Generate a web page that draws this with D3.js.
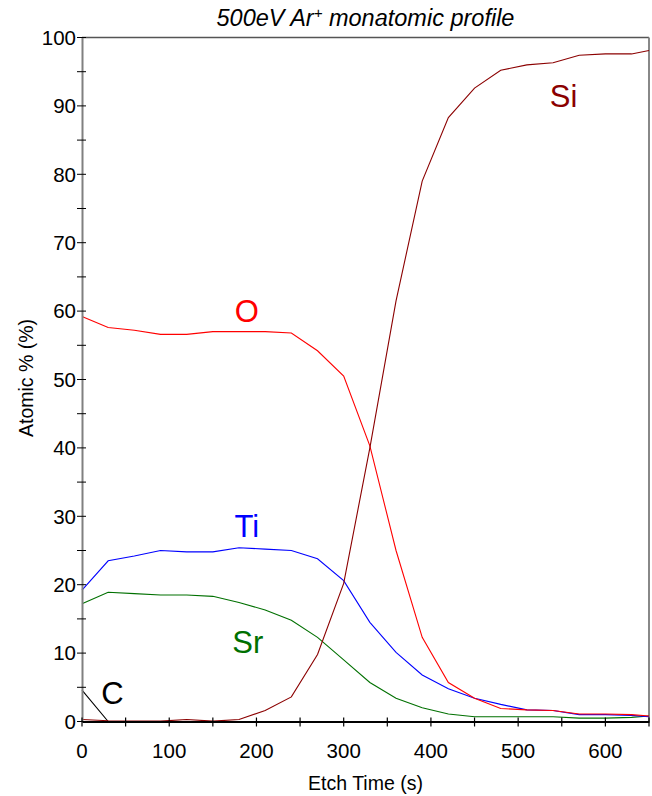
<!DOCTYPE html>
<html>
<head>
<meta charset="utf-8">
<script src="https://cdn.jsdelivr.net/npm/d3@7"></script>
<style>
  body { margin: 0; background: #fff; }
  svg { display: block; font-family: "Liberation Sans", Arial, sans-serif; }
</style>
</head>
<body>
<svg id="chart" width="652" height="796"></svg>
<script>
// ---- data ----
const etchTime = [0, 30, 60, 90, 120, 150, 180, 210, 240, 270, 300, 330, 360, 390, 420, 450, 480, 510, 540, 570, 600, 630, 650];
const siValues = [0.3, 0.1, 0.05, 0.05, 0.3, 0.05, 0.3, 1.6, 3.6, 9.8, 20.2, 40.0, 61.5, 79.0, 88.3, 92.6, 95.2, 96.0, 96.3, 97.4, 97.6, 97.6, 98.1];
const oValues  = [59.2, 57.6, 57.2, 56.6, 56.6, 57.0, 57.0, 57.0, 56.8, 54.2, 50.5, 40.3, 25.0, 12.3, 5.7, 3.4, 1.9, 1.7, 1.6, 1.1, 1.1, 1.0, 0.8];
const tiValues = [19.2, 23.5, 24.2, 25.0, 24.8, 24.8, 25.4, 25.2, 25.0, 23.8, 20.6, 14.5, 10.1, 6.8, 4.8, 3.4, 2.5, 1.7, 1.6, 1.0, 1.0, 0.9, 0.7];
const srValues = [17.2, 18.9, 18.7, 18.5, 18.5, 18.3, 17.4, 16.3, 14.8, 12.3, 9.0, 5.7, 3.4, 2.0, 1.1, 0.7, 0.7, 0.7, 0.7, 0.5, 0.5, 0.6, 0.8];
const cValues  = [4.6, 0, 0, 0, 0, 0, 0, 0, 0, 0, 0, 0, 0, 0, 0, 0, 0, 0, 0, 0, 0, 0, 0];

const seriesNames = ["C", "Sr", "Ti", "O", "Si"];
const seriesColors = {Si: "#8b0000", O: "#ff0000", Ti: "#0000ff", Sr: "#007000", C: "#000000"};
const seriesValues = {Si: siValues, O: oValues, Ti: tiValues, Sr: srValues, C: cValues};
// label anchor (data coords) for each series
const labelTime = {Si: 552, O: 189, Ti: 189, Sr: 190, C: 35};
const labelValue = {Si: 91.5, O: 60.0, Ti: 28.6, Sr: 11.6, C: 4.2};

const xTicks = [0, 100, 200, 300, 400, 500, 600];
const xMinorTicks = d3.range(0, 651, 50);
const yTicks = d3.range(0, 101, 10);
const yMinorTicks = d3.range(0, 101, 5);

const titleText = "500eV Ar";
const xLabel = "Etch Time (s)";
const yLabel = "Atomic % (%)";

// ---- layout ----
const svg = d3.select("#chart");
const mLeft = 82, mRight = 649, mTop = 37.5, mBottom = 721.5;

const x = d3.scaleLinear().domain([0, 650]).range([mLeft, mRight]);
const y = d3.scaleLinear().domain([0, 100]).range([mBottom, mTop]);

// frame (top, right)
svg.append("line").attr("x1", mLeft).attr("x2", mRight).attr("y1", mTop).attr("y2", mTop)
  .attr("stroke", "#555").attr("stroke-width", 1.5);
svg.append("line").attr("x1", mRight).attr("x2", mRight).attr("y1", mTop).attr("y2", mBottom)
  .attr("stroke", "#888").attr("stroke-width", 2);

// series
const line = d3.line().x((d, i) => x(etchTime[i])).y(d => y(d));
const plot = svg.append("g");
seriesNames.forEach(name => {
  plot.append("path")
    .datum(seriesValues[name])
    .attr("d", line)
    .attr("fill", "none")
    .attr("stroke", seriesColors[name])
    .attr("stroke-width", 1.1);
});

// y axis
const yAxisG = svg.append("g").attr("transform", `translate(${mLeft},0)`);
yAxisG.call(d3.axisLeft(y).tickValues(yMinorTicks).tickSize(0).tickFormat(""));
yAxisG.select(".domain").attr("stroke", "#808080").attr("stroke-width", 2);
yAxisG.selectAll(".tick").remove();
yMinorTicks.forEach(v => {
  yAxisG.append("line").attr("x1", -5).attr("x2", 4).attr("y1", y(v)).attr("y2", y(v))
    .attr("stroke", "#000").attr("stroke-width", 1);
});
yTicks.forEach(v => {
  yAxisG.append("text").attr("x", -6).attr("y", y(v)).attr("dy", "0.36em")
    .attr("text-anchor", "end").attr("font-size", 20.5).attr("fill", "#000").text(v);
});

// x axis
const xAxisG = svg.append("g").attr("transform", `translate(0,${mBottom})`);
xAxisG.call(d3.axisBottom(x).tickValues(xMinorTicks).tickSize(0).tickFormat(""));
xAxisG.select(".domain").attr("stroke", "#000").attr("stroke-width", 2);
xAxisG.selectAll(".tick").remove();
xMinorTicks.forEach(v => {
  xAxisG.append("line").attr("x1", x(v)).attr("x2", x(v)).attr("y1", -4).attr("y2", 5)
    .attr("stroke", "#000").attr("stroke-width", 1.2);
});
xTicks.forEach(v => {
  xAxisG.append("text").attr("x", x(v)).attr("y", 36)
    .attr("text-anchor", "middle").attr("font-size", 20.5).attr("fill", "#000").text(v);
});

// axis titles
svg.append("text").attr("x", (mLeft + mRight) / 2).attr("y", 790)
  .attr("text-anchor", "middle").attr("font-size", 19.5).text(xLabel);
svg.append("text").attr("transform", `translate(33,378) rotate(-90)`)
  .attr("text-anchor", "middle").attr("font-size", 19.5).text(yLabel);

// title
const t = svg.append("text").attr("x", (mLeft + mRight) / 2).attr("y", 26)
  .attr("text-anchor", "middle").attr("font-size", 23.5).attr("font-style", "italic");
t.append("tspan").text(titleText);
t.append("tspan").attr("font-size", 15).attr("dy", -8).text("+");
t.append("tspan").attr("dy", 8).text(" monatomic profile");

// series labels
seriesNames.forEach(name => {
  svg.append("text")
    .attr("x", x(labelTime[name]))
    .attr("y", y(labelValue[name]))
    .attr("text-anchor", "middle")
    .attr("dy", "0.36em")
    .attr("font-size", 31)
    .attr("fill", seriesColors[name])
    .text(name);
});
</script>
</body>
</html>
